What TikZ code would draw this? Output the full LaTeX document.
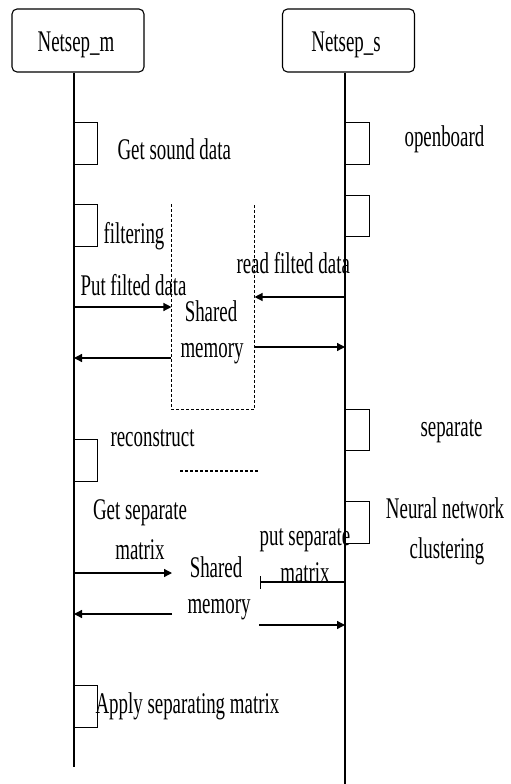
\documentclass[tikz,border=0pt]{standalone}
\usepackage{fontspec}
\setmainfont[FakeStretch=0.63]{Liberation Serif}
\usetikzlibrary{arrows.meta}
\begin{document}
\begin{tikzpicture}[x=1pt,y=-1pt,line width=1.1pt,
  header/.style={draw,rounded corners=5pt,minimum width=132pt,minimum height=63pt,inner sep=0pt},
  act/.style={draw,anchor=north west,minimum width=23pt,minimum height=42pt,inner sep=0pt},
  lbl/.style={inner sep=0pt,font=\fontsize{30}{30}\selectfont},
  arr/.style={-{Triangle[length=8pt,width=8pt]},line width=1.3pt},
  barr/.style={-{Bar[width=13pt]},line width=1.3pt},
  dsh/.style={dash pattern=on 3pt off 2pt,line width=1.1pt}]
\useasboundingbox (0,0) rectangle (511,784);
% headers
\node[header] (hm) at (78,40.5) {};
\node[header] (hs) at (348.5,40.5) {};
\node[lbl,anchor=base] at (76,52) {Netsep\_m};
\node[lbl,anchor=base] at (346,52) {Netsep\_s};
% lifelines
\coordinate (mbot) at (74,767);
\coordinate (sbot) at (345,784);
\draw (hm.south -| mbot) -- (mbot);
\draw (hs.south -| sbot) -- (sbot);
% activation boxes
\node[act] (a1) at (74,122) {};
\node[act] (a2) at (74,204) {};
\node[act] (a3) at (74,439) {};
\node[act] (a4) at (74,685) {};
\node[act,minimum width=24pt] (b1) at (345,122) {};
\node[act,minimum width=24pt,minimum height=41pt] (b2) at (345,195) {};
\node[act,minimum width=24pt,minimum height=41pt] (b3) at (345,409) {};
\node[act,minimum width=24pt] (b4) at (345,501) {};
% labels
\node[lbl,anchor=base west] (t1) at (117,159) {Get sound data};
\node[lbl,anchor=base west] (t2) at (404,146) {openboard};
\node[lbl,anchor=base west] (t3) at (103,243) {filtering};
\node[lbl,anchor=base west] (t4) at (236,273) {read filted data};
\node[lbl,anchor=base west] (t5) at (80,295) {Put filted data};
\node[lbl,anchor=base] (t6) at (211,321) {Shared};
\node[lbl,anchor=base] (t7) at (212,357) {memory};
\node[lbl,anchor=base west] (t8) at (420,436) {separate};
\node[lbl,anchor=base west] (t9) at (110,446) {reconstruct};
\node[lbl,anchor=base] (t10) at (140,519) {Get separate};
\node[lbl,anchor=base] (t11) at (140,559) {matrix};
\node[lbl,anchor=base] (t12) at (445,518) {Neural network};
\node[lbl,anchor=base] (t13) at (447,558) {clustering};
\node[lbl,anchor=base] (t14) at (305,545) {put separate};
\node[lbl,anchor=base] (t15) at (305,582) {matrix};
\node[lbl,anchor=base] (t16) at (216,577) {Shared};
\node[lbl,anchor=base] (t17) at (219,613) {memory};
\node[lbl,anchor=base west] (t18) at (95,713) {Apply separating matrix};
% shared memory box 1
\node[minimum width=82pt,minimum height=204pt,inner sep=0pt] (sm1) at (213,307) {};
\draw[dsh] (sm1.north west) -- (sm1.south west) -- (sm1.south east) -- (sm1.north east);
% dotted line of shared memory 2
\coordinate (d1) at (180,471);
\coordinate (d2) at (258,471);
\draw[dsh] (d1) -- (d2);
% arrows group 1
\coordinate (m1) at (74,307);
\coordinate (s1) at (345,297);
\coordinate (m2) at (74,358);
\coordinate (s2) at (345,347);
\draw[arr] (m1) -- (m1 -| sm1.west);
\draw[arr] (s1) -- (s1 -| sm1.east);
\draw[arr] (m2 -| sm1.west) -- (m2);
\draw[arr] (s2 -| sm1.east) -- (s2);
% arrows group 2
\coordinate (m3) at (74,573);
\coordinate (e3) at (172,573);
\coordinate (s3) at (345,582);
\coordinate (e4) at (260,582);
\coordinate (m4) at (74,614);
\coordinate (e5) at (172,614);
\coordinate (s4) at (345,625);
\coordinate (e6) at (259,625);
\draw[arr] (m3) -- (e3);
\draw[barr] (s3) -- (e4);
\draw[arr] (e5) -- (m4);
\draw[arr] (e6) -- (s4);
\end{tikzpicture}
\end{document}
